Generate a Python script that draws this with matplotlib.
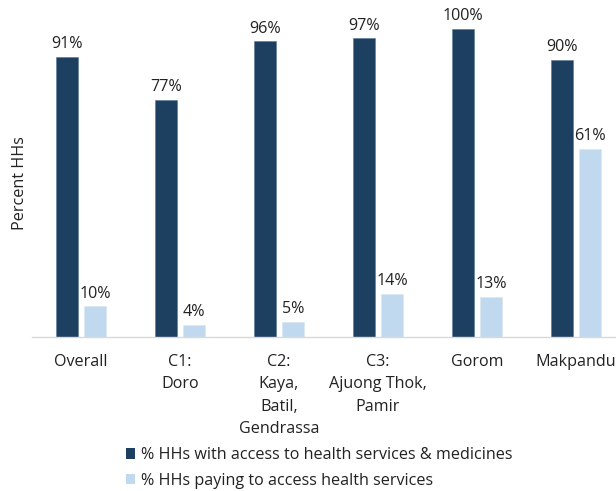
import matplotlib.pyplot as plt
import numpy as np
from matplotlib.patches import Patch

plt.rcParams['font.family'] = ['Open Sans', 'DejaVu Sans']

groups = ['Overall', 'C1:\nDoro', 'C2:\nKaya,\nBatil,\nGendrassa',
          'C3:\nAjuong Thok,\nPamir', 'Gorom', 'Makpandu']
access = [91, 77, 96, 97, 100, 90]
paying = [10, 4, 5, 14, 13, 61]
series_names = ['% HHs with access to health services & medicines',
                '% HHs paying to access health services']

dark = '#1d4060'
light = '#c1d9ee'
fs = 11.6

fig = plt.figure(figsize=(6.16, 4.91), dpi=100)
# axes run slightly past the right edge so the last group is clipped
ax = fig.add_axes([31.5 / 616, 1 - 337 / 491, 594 / 616, 323.4 / 491])

x = np.arange(len(groups))
w = 0.222
off = 0.141
b1 = ax.bar(x - off, access, w, color=dark, edgecolor='#5a7896', linewidth=0.4)
b2 = ax.bar(x + off, paying, w, color=light, edgecolor='#d8e7f4', linewidth=0.4)

for bars, vals in ((b1, access), (b2, paying)):
    for r, v in zip(bars, vals):
        ax.text(r.get_x() + r.get_width() / 2, v + 1.5, f'{v}%',
                ha='center', va='bottom', fontsize=fs, color='#222222')

ax.set_xlim(-0.5, len(groups) - 0.5)
ax.set_ylim(0, 105)
ax.set_xticks(x)
ax.set_xticklabels(groups, fontsize=fs, color='#222222', linespacing=1.55)
ax.tick_params(axis='x', length=0, pad=12)
ax.set_yticks([])
for s in ('top', 'right', 'left'):
    ax.spines[s].set_visible(False)
ax.spines['bottom'].set_color('#d9d9d9')
ax.spines['bottom'].set_linewidth(1)

fig.text(20 / 616, 1 - 183 / 491, 'Percent HHs', rotation=90, ha='center',
         va='center', fontsize=fs, color='#222222')

handles = [Patch(facecolor=dark), Patch(facecolor=light)]
fig.legend(handles, series_names, loc='center left',
           bbox_to_anchor=(111 / 616, 1 - 468 / 491), frameon=False,
           fontsize=fs, handlelength=0.6, handleheight=0.6,
           handletextpad=0.35, labelspacing=0.6, labelcolor='#222222')

fig.savefig('out.png', dpi=100)
